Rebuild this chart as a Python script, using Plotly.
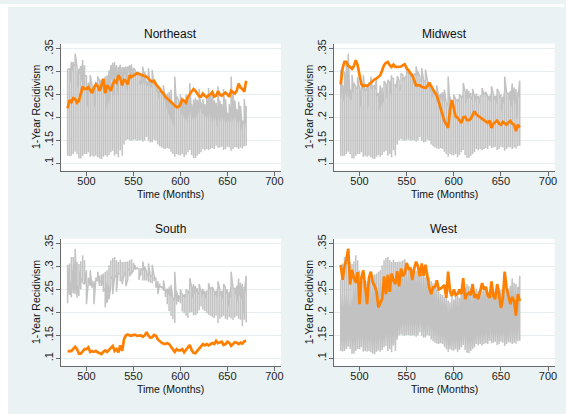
import plotly.graph_objects as go

# Monthly index shared by every region (every second month)
months = list(range(480, 672, 2))

# 1-year recidivism rate by census region
recid_northeast = [
    0.220, 0.238, 0.233, 0.242, 0.240, 0.232, 0.236, 0.250, 0.267, 0.262,
    0.262, 0.266, 0.258, 0.253, 0.265, 0.272, 0.268, 0.258, 0.270, 0.284,
    0.253, 0.270, 0.265, 0.258, 0.272, 0.280, 0.276, 0.292, 0.285, 0.270,
    0.282, 0.280, 0.272, 0.292, 0.288, 0.292, 0.294, 0.297, 0.295, 0.293,
    0.291, 0.290, 0.289, 0.284, 0.280, 0.278, 0.280, 0.272, 0.268, 0.263,
    0.256, 0.252, 0.245, 0.241, 0.238, 0.233, 0.231, 0.226, 0.222, 0.223,
    0.228, 0.239, 0.236, 0.232, 0.245, 0.250, 0.255, 0.262, 0.258, 0.253,
    0.246, 0.245, 0.252, 0.247, 0.244, 0.248, 0.250, 0.255, 0.245, 0.247,
    0.257, 0.250, 0.247, 0.251, 0.254, 0.250, 0.245, 0.258, 0.254, 0.252,
    0.258, 0.274, 0.265, 0.262, 0.256, 0.280]

recid_midwest = [
    0.272, 0.307, 0.321, 0.321, 0.312, 0.310, 0.306, 0.312, 0.325, 0.314,
    0.292, 0.272, 0.268, 0.270, 0.268, 0.272, 0.274, 0.280, 0.283, 0.285,
    0.289, 0.292, 0.303, 0.314, 0.319, 0.321, 0.314, 0.310, 0.315, 0.310,
    0.310, 0.311, 0.311, 0.314, 0.316, 0.307, 0.303, 0.296, 0.291, 0.281,
    0.270, 0.270, 0.270, 0.267, 0.265, 0.264, 0.268, 0.276, 0.268, 0.260,
    0.255, 0.247, 0.234, 0.218, 0.203, 0.192, 0.185, 0.177, 0.217, 0.238,
    0.220, 0.202, 0.199, 0.193, 0.188, 0.200, 0.201, 0.194, 0.194, 0.197,
    0.205, 0.213, 0.206, 0.203, 0.199, 0.195, 0.193, 0.190, 0.188, 0.193,
    0.177, 0.186, 0.190, 0.193, 0.186, 0.184, 0.190, 0.187, 0.184, 0.189,
    0.192, 0.186, 0.184, 0.170, 0.184, 0.178]

recid_south = [
    0.116, 0.115, 0.116, 0.120, 0.125, 0.120, 0.110, 0.110, 0.116, 0.120,
    0.120, 0.124, 0.114, 0.116, 0.114, 0.116, 0.113, 0.110, 0.109, 0.114,
    0.117, 0.114, 0.118, 0.124, 0.127, 0.116, 0.120, 0.113, 0.128, 0.116,
    0.141, 0.150, 0.152, 0.150, 0.149, 0.151, 0.151, 0.149, 0.150, 0.150,
    0.147, 0.150, 0.157, 0.149, 0.145, 0.146, 0.151, 0.149, 0.141, 0.137,
    0.134, 0.132, 0.131, 0.133, 0.131, 0.125, 0.120, 0.114, 0.120, 0.117,
    0.117, 0.120, 0.113, 0.118, 0.124, 0.129, 0.118, 0.112, 0.111, 0.116,
    0.120, 0.124, 0.131, 0.128, 0.131, 0.128, 0.131, 0.133, 0.131, 0.138,
    0.133, 0.134, 0.136, 0.129, 0.131, 0.136, 0.134, 0.127, 0.131, 0.135,
    0.134, 0.131, 0.134, 0.132, 0.137, 0.138]

recid_west = [
    0.304, 0.271, 0.300, 0.316, 0.339, 0.261, 0.293, 0.275, 0.265, 0.288,
    0.218, 0.276, 0.292, 0.257, 0.218, 0.276, 0.289, 0.266, 0.258, 0.246,
    0.211, 0.221, 0.229, 0.279, 0.240, 0.282, 0.245, 0.285, 0.270, 0.262,
    0.290, 0.257, 0.296, 0.279, 0.285, 0.308, 0.295, 0.296, 0.271, 0.296,
    0.311, 0.300, 0.279, 0.307, 0.280, 0.304, 0.279, 0.254, 0.240, 0.255,
    0.255, 0.270, 0.250, 0.252, 0.255, 0.260, 0.232, 0.289, 0.246, 0.236,
    0.250, 0.238, 0.240, 0.250, 0.240, 0.275, 0.229, 0.239, 0.243, 0.238,
    0.262, 0.232, 0.240, 0.229, 0.246, 0.264, 0.250, 0.256, 0.237, 0.232,
    0.268, 0.236, 0.229, 0.262, 0.240, 0.210, 0.229, 0.289, 0.254, 0.236,
    0.218, 0.234, 0.225, 0.193, 0.240, 0.225]

regions = ["Northeast", "Midwest", "South", "West"]
series = {
    "Northeast": recid_northeast,
    "Midwest": recid_midwest,
    "South": recid_south,
    "West": recid_west,
}

x_ticks = [500, 550, 600, 650, 700]
y_ticks = [0.10, 0.15, 0.20, 0.25, 0.30, 0.35]
y_tick_text = [".1", ".15", ".2", ".25", ".3", ".35"]

W, H = 566, 414
FONT = "Liberation Sans, Arial, sans-serif"
BG = "#EAF2F3"
AXIS = "#6a6a6a"
TEXT = "#111111"

# panel plot areas in pixels: (left, right, top, bottom)
panels = [(61, 282, 40, 168.3), (335, 556.7, 40, 168.3),
          (61, 282, 237, 365.3), (335, 556.7, 237, 365.3)]

fig = go.Figure()
annotations = []

for i, name in enumerate(regions):
    suffix = "" if i == 0 else str(i + 1)
    left, right, top, bottom = panels[i]

    # the other three regions, sorted by month and joined as one line
    pooled = []
    for j, other in enumerate(regions):
        if j == i:
            continue
        pooled += [(mm, j, vv) for mm, vv in zip(months, series[other])]
    pooled.sort()
    fig.add_trace(go.Scatter(
        x=[p[0] for p in pooled], y=[p[2] for p in pooled], mode="lines",
        line=dict(color="#C2C2C2", width=1.5), xaxis="x" + suffix, yaxis="y" + suffix,
        hoverinfo="skip", showlegend=False))

    fig.add_trace(go.Scatter(
        x=months, y=series[name], mode="lines", line=dict(color="#FF8000", width=2.7),
        xaxis="x" + suffix, yaxis="y" + suffix, name=name, showlegend=False))

    fig.update_layout(**{
        "xaxis" + suffix: dict(
            domain=[left / W, right / W], range=[472.7, 707.1], anchor="y" + suffix,
            tickvals=x_ticks, ticks="outside", ticklen=4, tickcolor=AXIS, tickwidth=1,
            ticklabelstandoff=-4,
            showline=True, linecolor=AXIS, linewidth=1, showgrid=False, zeroline=False,
            tickfont=dict(family=FONT, size=11, color="#222222")),
        "yaxis" + suffix: dict(
            domain=[1 - bottom / H, 1 - top / H], range=[0.0836, 0.361], anchor="x" + suffix,
            tickvals=y_ticks, ticktext=y_tick_text, tickangle=-90,
            ticks="outside", ticklen=4, tickcolor=AXIS, tickwidth=1,
            ticklabelstandoff=-2,
            showline=True, linecolor=AXIS, linewidth=1, showgrid=True,
            gridcolor="#E6EEF0", gridwidth=1, zeroline=False,
            tickfont=dict(family=FONT, size=11, color="#222222")),
    })

    cx = (left + right) / 2
    cy = (top + bottom) / 2
    annotations.append(dict(text=name, x=cx / W, y=1 - (top - 9.5) / H, xref="paper", yref="paper",
                            xanchor="center", yanchor="middle", showarrow=False,
                            font=dict(family=FONT, size=12, color=TEXT)))
    annotations.append(dict(text="Time (Months)", x=cx / W, y=1 - (bottom + 23.5) / H,
                            xref="paper", yref="paper", xanchor="center", yanchor="middle",
                            showarrow=False, font=dict(family=FONT, size=10.5, color=TEXT)))
    annotations.append(dict(text="1-Year Recidivism", x=(left - 25) / W, y=1 - cy / H,
                            xref="paper", yref="paper", xanchor="center", yanchor="middle",
                            textangle=-90, showarrow=False,
                            font=dict(family=FONT, size=10.5, color=TEXT)))

fig.update_layout(
    width=W, height=H, margin=dict(l=0, r=0, t=0, b=0),
    paper_bgcolor=BG, plot_bgcolor="white",
    annotations=annotations,
    shapes=[
        dict(type="rect", xref="paper", yref="paper", x0=0, x1=8 / W, y0=0, y1=1,
             fillcolor="white", line=dict(width=0)),
        dict(type="rect", xref="paper", yref="paper", x0=0, x1=1, y0=1 - 3 / H, y1=1,
             fillcolor="white", line=dict(width=0)),
    ],
)

fig.write_html("out.html")
